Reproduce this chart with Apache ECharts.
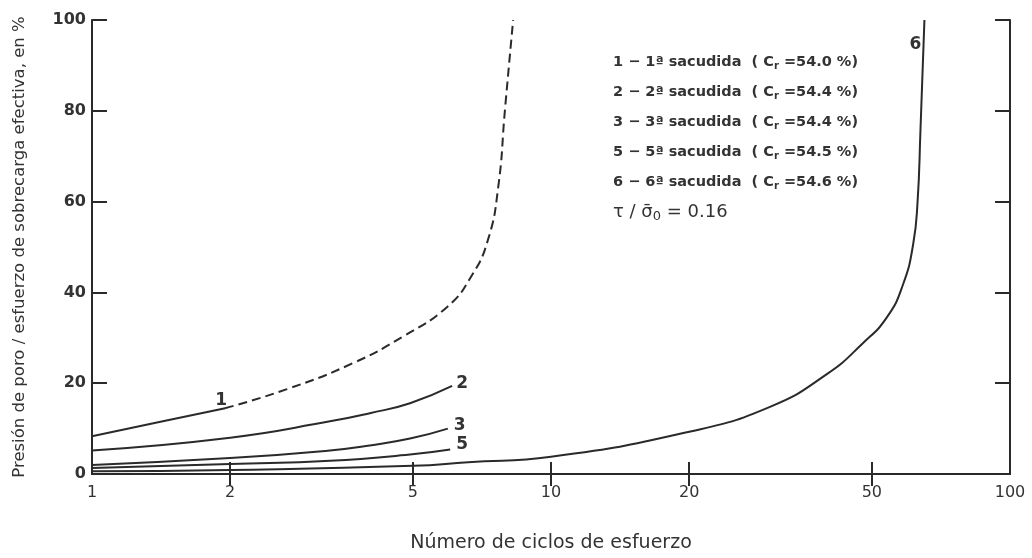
<!DOCTYPE html>
<html>
<head>
<meta charset="utf-8">
<script src="https://cdn.jsdelivr.net/npm/echarts@6/dist/echarts.min.js"></script>
<style>html,body{margin:0;padding:0;background:#fff}#c{width:1032px;height:558px}</style>
</head>
<body>
<div id="c"></div>
<script>
const xTicks = [1, 2, 5, 10, 20, 50, 100];
const yTicks = [0, 20, 40, 60, 80, 100];

const curve1SolidX = [1, 1.41, 1.95];
const curve1SolidY = [8.3, 11.5, 14.5];
const curve1DashX = [1.95, 2.66, 3.7, 4.76, 5.94, 6.7, 7.28, 7.67, 7.94, 8.27];
const curve1DashY = [14.5, 18.7, 24.4, 30.3, 36.8, 43.5, 51.4, 63, 80.4, 100];
const curve2X = [1, 2, 3.3, 4.03, 4.93, 6.09];
const curve2Y = [5.2, 8.0, 11.6, 13.4, 15.6, 19.4];
const curve3X = [1, 2, 3.3, 4.03, 4.93, 5.96];
const curve3Y = [2.0, 3.5, 5.2, 6.3, 7.8, 10.0];
const curve5X = [1, 2, 3.3, 4.93, 6.03];
const curve5Y = [1.3, 2.2, 2.9, 4.3, 5.4];
const curve6X = [1, 2, 5, 6.6, 10, 20, 30, 39.9, 47.8, 54, 58.5, 61.5, 62.9, 63.8, 65.1];
const curve6Y = [0.6, 0.9, 1.8, 2.6, 3.8, 9.3, 14.8, 22, 28.8, 34.6, 41.8, 50.5, 60, 75.4, 100];

const legendLines = [
  ['1 − 1ª sacudida', '54.0'],
  ['2 − 2ª sacudida', '54.4'],
  ['3 − 3ª sacudida', '54.4'],
  ['5 − 5ª sacudida', '54.5'],
  ['6 − 6ª sacudida', '54.6']
];
const ratioText = ['τ / σ̄', '0', ' = 0.16'];

const zip = (xs, ys) => xs.map((x, i) => [x, ys[i]]);
const ink = '#2a2a2a';
const txt = '#333';
const font = 'DejaVu Sans';

function curve(name, xs, ys, label, offset, dashed) {
  return {
    name: name,
    type: 'line',
    data: zip(xs, ys),
    smooth: 0.5,
    symbol: 'none',
    lineStyle: { color: ink, width: 2, type: dashed ? [9, 5] : 'solid' },
    endLabel: label ? {
      show: true, formatter: label, color: txt, fontFamily: font, fontSize: 17,
      fontWeight: 'bold', offset: offset, distance: 0
    } : { show: false },
    silent: true,
    z: 3
  };
}

const axisStyle = { lineStyle: { color: ink, width: 2 } };

const graphics = legendLines.map((l, i) => ({
  type: 'text',
  left: 613,
  top: 55 + i * 30,
  style: {
    text: '{t|' + l[0] + '  ( C}{s|r}{t| =' + l[1] + ' %)}',
    rich: {
      t: { fontFamily: font, fontSize: 14.5, fontWeight: 'bold', fill: txt },
      s: { fontFamily: font, fontSize: 10, fontWeight: 'bold', fill: txt, padding: [7, 0, 0, 0] }
    }
  }
}));
graphics.push({
  type: 'text',
  left: 613,
  top: 203,
  style: {
    text: '{t|' + ratioText[0] + '}{s|' + ratioText[1] + '}{t|' + ratioText[2] + '}',
    rich: {
      t: { fontFamily: font, fontSize: 18, fill: txt },
      s: { fontFamily: font, fontSize: 13, fill: txt, padding: [10, 0, 0, 0] }
    }
  }
});

const chart = echarts.init(document.getElementById('c'), null, { renderer: 'canvas' });
chart.setOption({
  backgroundColor: '#fff',
  animation: false,
  grid: { left: 92, right: 22, top: 20, bottom: 79 },
  xAxis: [{
    type: 'log', logBase: 10, min: 1, max: 100, position: 'bottom',
    axisLine: axisStyle,
    axisTick: { show: true, inside: true, length: 12, lineStyle: { color: ink, width: 2 }, customValues: xTicks },
    axisLabel: { show: true, customValues: xTicks, color: txt, fontFamily: font, fontSize: 16, margin: 11,
      formatter: v => String(Math.round(v)) },
    splitLine: { show: false },
    minorTick: { show: false },
    name: 'Número de ciclos de esfuerzo', nameLocation: 'middle', nameGap: 60,
    nameTextStyle: { color: txt, fontFamily: font, fontSize: 19 }
  }, {
    type: 'log', logBase: 10, min: 1, max: 100, position: 'top',
    axisLine: axisStyle,
    axisTick: { show: true, inside: true, length: 12, lineStyle: { color: ink, width: 2 }, customValues: xTicks.slice(1, -1) },
    axisLabel: { show: false },
    splitLine: { show: false }
  }],
  yAxis: [{
    type: 'value', min: 0, max: 100, interval: 20, position: 'left',
    axisLine: { show: true, lineStyle: { color: ink, width: 2 } },
    axisTick: { show: true, inside: true, length: 15, lineStyle: { color: ink, width: 2 } },
    axisLabel: { color: txt, fontFamily: font, fontSize: 16, fontWeight: 'bold', margin: 6 },
    splitLine: { show: false },
    name: 'Presión de poro / esfuerzo de sobrecarga efectiva, en %', nameLocation: 'middle', nameGap: 64,
    nameTextStyle: { color: txt, fontFamily: font, fontSize: 16.5 }
  }, {
    type: 'value', min: 0, max: 100, interval: 20, position: 'right',
    axisLine: { show: true, lineStyle: { color: ink, width: 2 } },
    axisTick: { show: true, inside: true, length: 15, lineStyle: { color: ink, width: 2 } },
    axisLabel: { show: false },
    splitLine: { show: false }
  }],
  graphic: graphics,
  series: [
    curve('1', curve1SolidX, curve1SolidY, '1', [-10, -8], false),
    curve('1b', curve1DashX, curve1DashY, null, null, true),
    curve('2', curve2X, curve2Y, '2', [4, -2], false),
    curve('3', curve3X, curve3Y, '3', [6, -3], false),
    curve('5', curve5X, curve5Y, '5', [6, -5], false),
    curve('6', curve6X, curve6Y, '6', [-15, 25], false)
  ]
});
</script>
</body>
</html>
